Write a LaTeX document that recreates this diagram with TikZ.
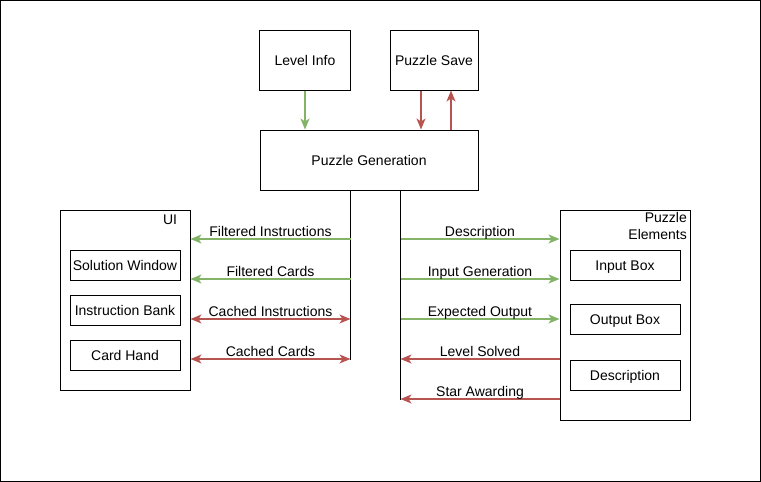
\documentclass[tikz,border=0pt]{standalone}
\usepackage{fontspec}
\setmainfont{Liberation Sans}
\usepackage{tikz}
\usetikzlibrary{arrows.meta}
\definecolor{flowgreen}{HTML}{82B366}
\definecolor{flowred}{HTML}{B85450}
\tikzset{
  box/.style={draw, line width=1pt, rectangle, align=center, inner sep=2pt, text height=10pt, text depth=0pt},
  flow/.style={line width=1.5pt, -{Stealth[length=11pt, width=9pt, inset=3pt]}},
  giving/.style={flow, draw=flowgreen},
  taking/.style={flow, draw=flowred},
  both/.style={line width=1.5pt, {Stealth[length=11pt, width=9pt, inset=3pt]}-{Stealth[length=11pt, width=9pt, inset=3pt]}, draw=flowred},
  tag/.style={above, inner sep=2pt, text depth=0pt}
}
\begin{document}
\begin{tikzpicture}[x=1pt, y=-1pt, font=\fontsize{14}{16}\selectfont]
    \useasboundingbox (0,0) rectangle (761,482);
    \draw[line width=1pt] (0.5,0.5) rectangle (760.5,481.5);

    %top boxes
    \node[box, minimum width=91pt, minimum height=60pt] (level) at (305,60) {Level Info};
    \node[box, minimum width=88pt, minimum height=60pt] (save) at (434,60) {Puzzle Save};
    \node[box, minimum width=218pt, minimum height=60pt] (gen) at (369,160) {Puzzle Generation};

    \draw[giving] (level.south) -- (level.south |- gen.north);
    \draw[taking] ([xshift=-13pt]save.south) -- ([xshift=-13pt]save.south |- gen.north);
    \draw[taking] ([xshift=17pt]save.south |- gen.north) -- ([xshift=17pt]save.south);

    %UI
    \node[box, minimum width=130pt, minimum height=180pt] (ui) at (125,300) {};
    \node (uitag) at (170,220) {UI};
    \node[box, minimum width=110pt, minimum height=30pt] (solution) at (125,265) {Solution Window};
    \node[box, minimum width=110pt, minimum height=30pt] (bank) at (125,310) {Instruction Bank};
    \node[box, minimum width=110pt, minimum height=30pt] (hand) at (125,355) {Card Hand};

    %puzzle elements
    \node[box, minimum width=130pt, minimum height=210pt] (elements) at (625,315) {};
    \node[align=right, anchor=north east, inner sep=0pt] (elemtag) at (687,212) {Puzzle\\[1.5pt]Elements};
    \node[box, minimum width=110pt, minimum height=30pt] (input) at (625,265) {Input Box};
    \node[box, minimum width=110pt, minimum height=30pt] (output) at (625,319) {Output Box};
    \node[box, minimum width=110pt, minimum height=30pt] (descr) at (625,375) {Description};

    %bus lines
    \coordinate (lbus) at (350.5,360);
    \coordinate (rbus) at (400.5,400);
    \draw[line width=1pt] (gen.south -| lbus) -- (lbus);
    \draw[line width=1pt] (gen.south -| rbus) -- (rbus);

    %left side
    \coordinate (l1) at (350.5,239);
    \coordinate (l2) at (350.5,279);
    \coordinate (l3) at (350.5,319);
    \coordinate (l4) at (350.5,359);
    \draw[giving] (l1) -- (ui.east |- l1) node[midway, tag] {Filtered Instructions};
    \draw[giving] (l2) -- (ui.east |- l2) node[midway, tag] {Filtered Cards};
    \draw[both] (l3) -- (ui.east |- l3) node[midway, tag] {Cached Instructions};
    \draw[both] (l4) -- (ui.east |- l4) node[midway, tag] {Cached Cards};

    %right side
    \coordinate (r1) at (400.5,239);
    \coordinate (r2) at (400.5,279);
    \coordinate (r3) at (400.5,319);
    \coordinate (r4) at (400.5,359);
    \coordinate (r5) at (400.5,399);
    \draw[giving] (r1) -- (elements.west |- r1) node[midway, tag] {Description};
    \draw[giving] (r2) -- (elements.west |- r2) node[midway, tag] {Input Generation};
    \draw[giving] (r3) -- (elements.west |- r3) node[midway, tag] {Expected Output};
    \draw[taking] (elements.west |- r4) -- (r4) node[midway, tag] {Level Solved};
    \draw[taking] (elements.west |- r5) -- (r5) node[midway, tag] {Star Awarding};
\end{tikzpicture}
\end{document}
